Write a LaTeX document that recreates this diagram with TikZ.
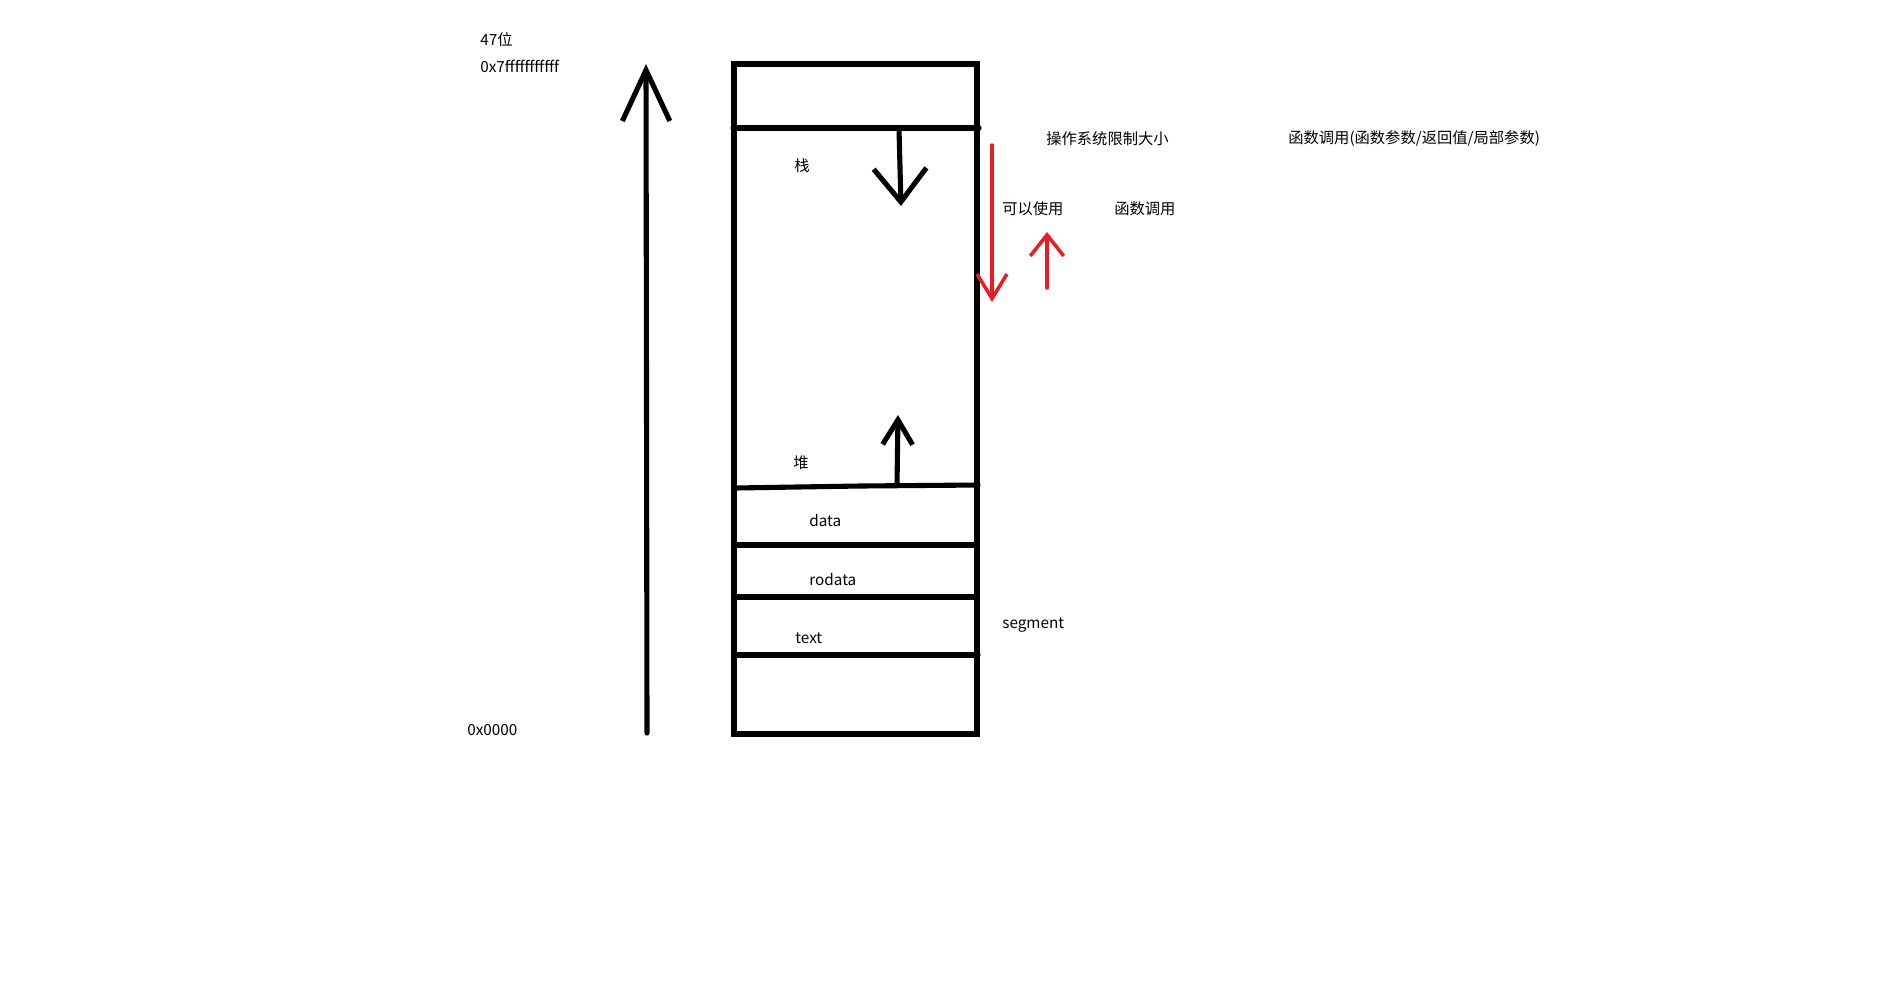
\documentclass[tikz,border=0pt]{standalone}
\usepackage{fontspec}
\setmainfont{Noto Sans CJK SC}
\usetikzlibrary{arrows.meta}
\tikzset{
    pen/.style={line width=2.9pt, line cap=round},
    redpen/.style={line width=2pt, line cap=round, draw=penred},
    barb/.style 2 args={-{Straight Barb[length=#1, width=#2, line width=2.9pt]}},
    redbarb/.style 2 args={-{Straight Barb[length=#1, width=#2, line width=2pt]}},
    lbl/.style={font=\fontsize{8.7}{10}\selectfont, inner sep=0pt, anchor=west}
}
\definecolor{penred}{RGB}{237,28,36}
\begin{document}
\begin{tikzpicture}[x=0.02cm, y=-0.02cm]
    \useasboundingbox[fill=white] (0,0) rectangle (1896,1002);
    % address axis
    \node[lbl] (bits) at (480,40) {47位};
    \node[lbl] (high) at (480,66) {0x7fffffffffff};
    \node[lbl] (low) at (467,730) {0x0000};
    \coordinate (axisbot) at (647,733);
    \coordinate (axistop) at (646,64);
    \draw[pen, barb={29pt}{27pt}] (axisbot) -- (axistop);
    % memory box
    \draw[pen] (734,64) rectangle (977,734);
    \draw[pen] (733,128) -- (979,128);
    \draw[pen] (735,488) -- (860,486) -- (978,485);
    \draw[pen] (734,545) -- (977,545);
    \draw[pen] (735,597) -- (977,597);
    \draw[pen] (735,655) -- (978,655);
    \node[lbl, anchor=center] (stack) at (802,166) {栈};
    \node[lbl, anchor=center] (heap) at (801,463) {堆};
    \node[lbl] (data) at (809,521) {data};
    \node[lbl] (rodata) at (809,580) {rodata};
    \node[lbl] (text) at (795,638) {text};
    \node[lbl] (segment) at (1002,625) {segment};
    % growth arrows
    \coordinate (stacktop) at (899,129);
    \coordinate (stackend) at (901,206);
    \draw[pen, barb={19pt}{30pt}] (stacktop) -- (stackend);
    \coordinate (heapbot) at (897,485);
    \coordinate (heapend) at (898,415);
    \draw[pen, barb={14pt}{17pt}] (heapbot) -- (heapend);
    % stack limit
    \coordinate (limtop) at (992,145);
    \coordinate (limbot) at (992,302);
    \draw[redpen, redbarb={14pt}{17pt}] (limtop) -- (limbot);
    \coordinate (callbot) at (1047,288);
    \coordinate (calltop) at (1047,232);
    \draw[redpen, redbarb={12pt}{19pt}] (callbot) -- (calltop);
    \node[lbl] (oslimit) at (1046,139) {操作系统限制大小};
    \node[lbl] (calldesc) at (1288,139) {函数调用(函数参数/返回值/局部参数)};
    \node[lbl] (usable) at (1002,209) {可以使用};
    \node[lbl] (call) at (1114,209) {函数调用};
\end{tikzpicture}
\end{document}
